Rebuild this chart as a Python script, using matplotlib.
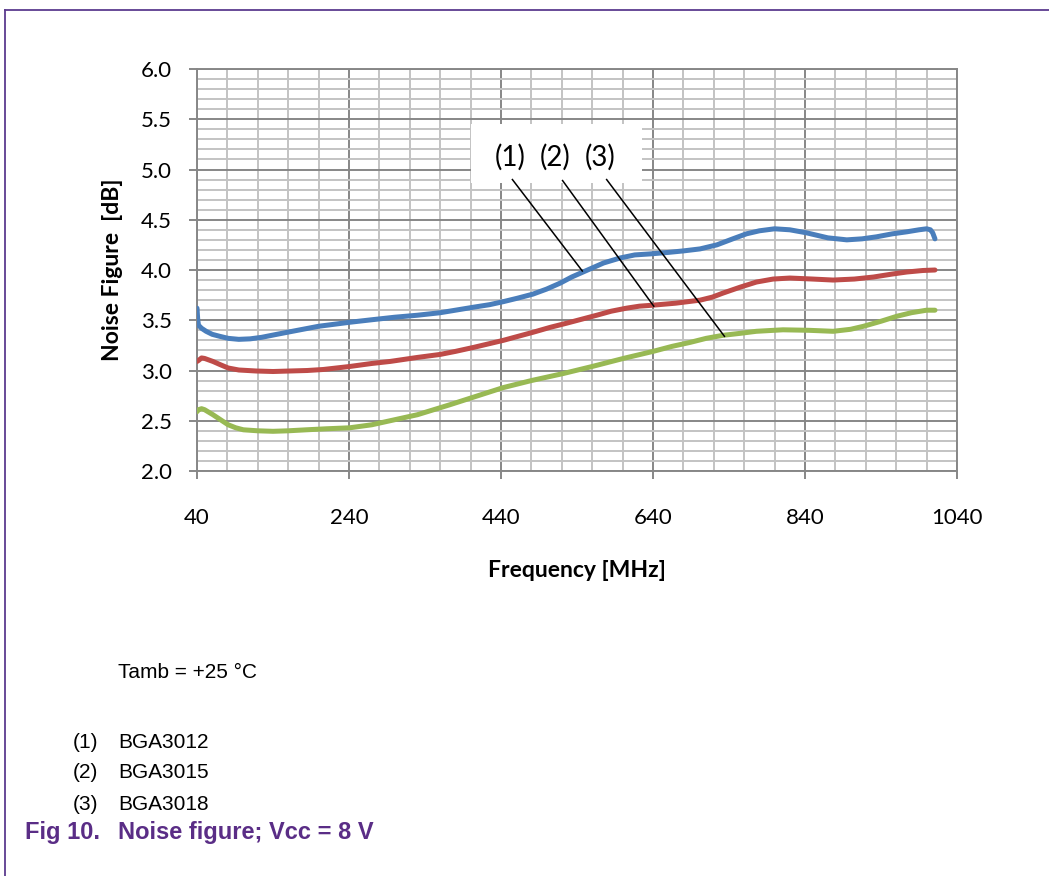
import numpy as np
import matplotlib
matplotlib.use("Agg")
import matplotlib.pyplot as plt
from matplotlib.lines import Line2D
from matplotlib.patches import Rectangle

# noise figure vs frequency, read per device
freq_3012 = [40, 41, 42, 46, 52, 60, 70, 81, 95, 110, 125, 145, 162, 200, 241, 270, 300,
             330, 360, 380, 404, 425, 443, 462, 482, 500, 518, 533, 548, 560, 575, 597,
             616, 636, 660, 680, 702, 724, 745, 763, 780, 800, 820, 842, 870, 895, 915,
             934, 955, 974, 990, 1000, 1005, 1008, 1011]
nf_3012 = [3.62, 3.50, 3.45, 3.42, 3.39, 3.36, 3.34, 3.32, 3.31, 3.315, 3.33, 3.36, 3.385,
           3.44, 3.48, 3.505, 3.53, 3.55, 3.575, 3.60, 3.63, 3.655, 3.685, 3.72, 3.76, 3.81,
           3.87, 3.93, 3.98, 4.02, 4.07, 4.12, 4.15, 4.16, 4.175, 4.19, 4.21, 4.25, 4.31,
           4.36, 4.39, 4.41, 4.40, 4.37, 4.32, 4.30, 4.31, 4.33, 4.36, 4.38, 4.40, 4.41,
           4.40, 4.37, 4.31]

freq_3015 = [40, 42, 46, 50, 61, 70, 81, 95, 118, 140, 162, 185, 206, 241, 270, 294, 330,
             360, 380, 404, 443, 482, 505, 526, 546, 566, 585, 605, 622, 640, 670, 702, 718,
             732, 755, 776, 798, 820, 850, 877, 905, 930, 955, 974, 995, 1011]
nf_3015 = [3.09, 3.10, 3.125, 3.12, 3.09, 3.06, 3.025, 3.005, 2.995, 2.99, 2.995, 3.00,
           3.01, 3.04, 3.07, 3.09, 3.13, 3.16, 3.19, 3.23, 3.30, 3.38, 3.43, 3.47, 3.51,
           3.55, 3.59, 3.62, 3.64, 3.65, 3.67, 3.70, 3.73, 3.77, 3.83, 3.88, 3.91, 3.92,
           3.91, 3.90, 3.91, 3.93, 3.96, 3.98, 3.995, 4.00]

freq_3018 = [40, 42, 46, 50, 61, 71, 81, 91, 101, 120, 140, 160, 184, 210, 241, 270, 294,
             330, 373, 410, 443, 480, 522, 560, 601, 640, 665, 689, 710, 732, 755, 776,
             811, 845, 877, 900, 917, 940, 961, 980, 1000, 1011]
nf_3018 = [2.59, 2.61, 2.62, 2.61, 2.56, 2.51, 2.46, 2.43, 2.41, 2.40, 2.395, 2.40, 2.41,
           2.42, 2.43, 2.46, 2.50, 2.56, 2.66, 2.75, 2.83, 2.90, 2.97, 3.04, 3.12, 3.19,
           3.24, 3.28, 3.32, 3.35, 3.37, 3.39, 3.405, 3.40, 3.39, 3.41, 3.44, 3.49, 3.54,
           3.575, 3.60, 3.60]

devices = ["BGA3012", "BGA3015", "BGA3018"]
callout_tags = ["(1)", "(2)", "(3)"]
x_ticks = [40, 240, 440, 640, 840, 1040]

W, H = 1049, 876
fig = plt.figure(figsize=(W / 100, H / 100), dpi=100)
ax = fig.add_axes([197 / W, 1 - 471 / H, 760 / W, 402 / H])

axis_font = "Lato"
grey_major = "#878787"
grey_minor = "#c3c3c3"

ax.set_xlim(40, 1040)
ax.set_ylim(2.0, 6.0)
ax.set_xticks(x_ticks)
ax.set_xticks(np.arange(40, 1041, 40), minor=True)
ax.set_yticks(np.arange(2.0, 6.01, 0.5))
ax.set_yticks(np.arange(2.0, 6.01, 0.1), minor=True)
ax.set_yticklabels([f"{v:.1f}" for v in np.arange(2.0, 6.01, 0.5)])

ax.grid(which="minor", color=grey_minor, lw=1.4)
ax.grid(which="major", color=grey_major, lw=1.4)
ax.set_axisbelow(True)
for sp in ax.spines.values():
    sp.set_color(grey_major)
    sp.set_linewidth(1.4)

ax.tick_params(which="major", length=6, width=1.4, color=grey_major,
               labelsize=16, labelcolor="black")
ax.tick_params(axis="x", which="major", pad=21)
ax.tick_params(axis="y", which="major", pad=12)
ax.tick_params(which="minor", length=0)
for lab in ax.get_xticklabels() + ax.get_yticklabels():
    lab.set_fontfamily(axis_font)

ax.set_xlabel("Frequency [MHz]", fontsize=16.5, fontweight="bold",
              fontfamily=axis_font, labelpad=23)
ax.set_ylabel("Noise Figure  [dB]", fontsize=16.5, fontweight="bold",
              fontfamily=axis_font, labelpad=13)

ax.plot(freq_3012, nf_3012, color="#4a7ebb", lw=3.6, solid_capstyle="round",
        solid_joinstyle="round", zorder=3)
ax.plot(freq_3015, nf_3015, color="#be4b48", lw=3.6, solid_capstyle="round",
        solid_joinstyle="round", zorder=3)
ax.plot(freq_3018, nf_3018, color="#98b954", lw=3.6, solid_capstyle="round",
        solid_joinstyle="round", zorder=3)

# callout box with leader lines onto each curve
ax.add_patch(Rectangle((401, 4.87), 225, 0.58, facecolor="white",
                       edgecolor="none", zorder=4))
tag_x = [452, 511, 571]
line_start = [(455, 4.90), (521, 4.89), (579, 4.90)]
line_end = [(547, 3.99), (641, 3.64), (734, 3.34)]
for tag, tx, (x0, y0), (x1, y1) in zip(callout_tags, tag_x, line_start, line_end):
    ax.text(tx, 5.12, tag, fontsize=20, fontfamily=axis_font, ha="center",
            va="center", zorder=5)
    ax.plot([x0, x1], [y0, y1], color="black", lw=1.1, zorder=5)

# page frame
frame = "#5c3b8f"
fig.add_artist(Line2D([5 / W, 1], [1 - 10 / H, 1 - 10 / H], color=frame, lw=1.3))
fig.add_artist(Line2D([5 / W, 5 / W], [0, 1 - 10 / H], color=frame, lw=1.3))

notes_font = "Liberation Sans"
fig.text(118 / W, 1 - 673 / H, "Tamb = +25 °C", fontsize=15, fontfamily=notes_font,
         va="center")
for i, (tag, name) in enumerate(zip(callout_tags, devices)):
    y = 1 - (742 + 31 * i) / H
    fig.text(73 / W, y, tag, fontsize=15, fontfamily=notes_font, va="center")
    fig.text(118 / W, y, name, fontsize=15, fontfamily=notes_font, va="center")

fig.text(25 / W, 1 - 832 / H, "Fig 10.", fontsize=17, fontweight="bold",
         fontfamily=notes_font, color="#5a2d86", va="center")
fig.text(118 / W, 1 - 832 / H, "Noise figure; Vcc = 8 V", fontsize=17,
         fontweight="bold", fontfamily=notes_font, color="#5a2d86", va="center")

fig.savefig("out.png", dpi=100, facecolor="white")
